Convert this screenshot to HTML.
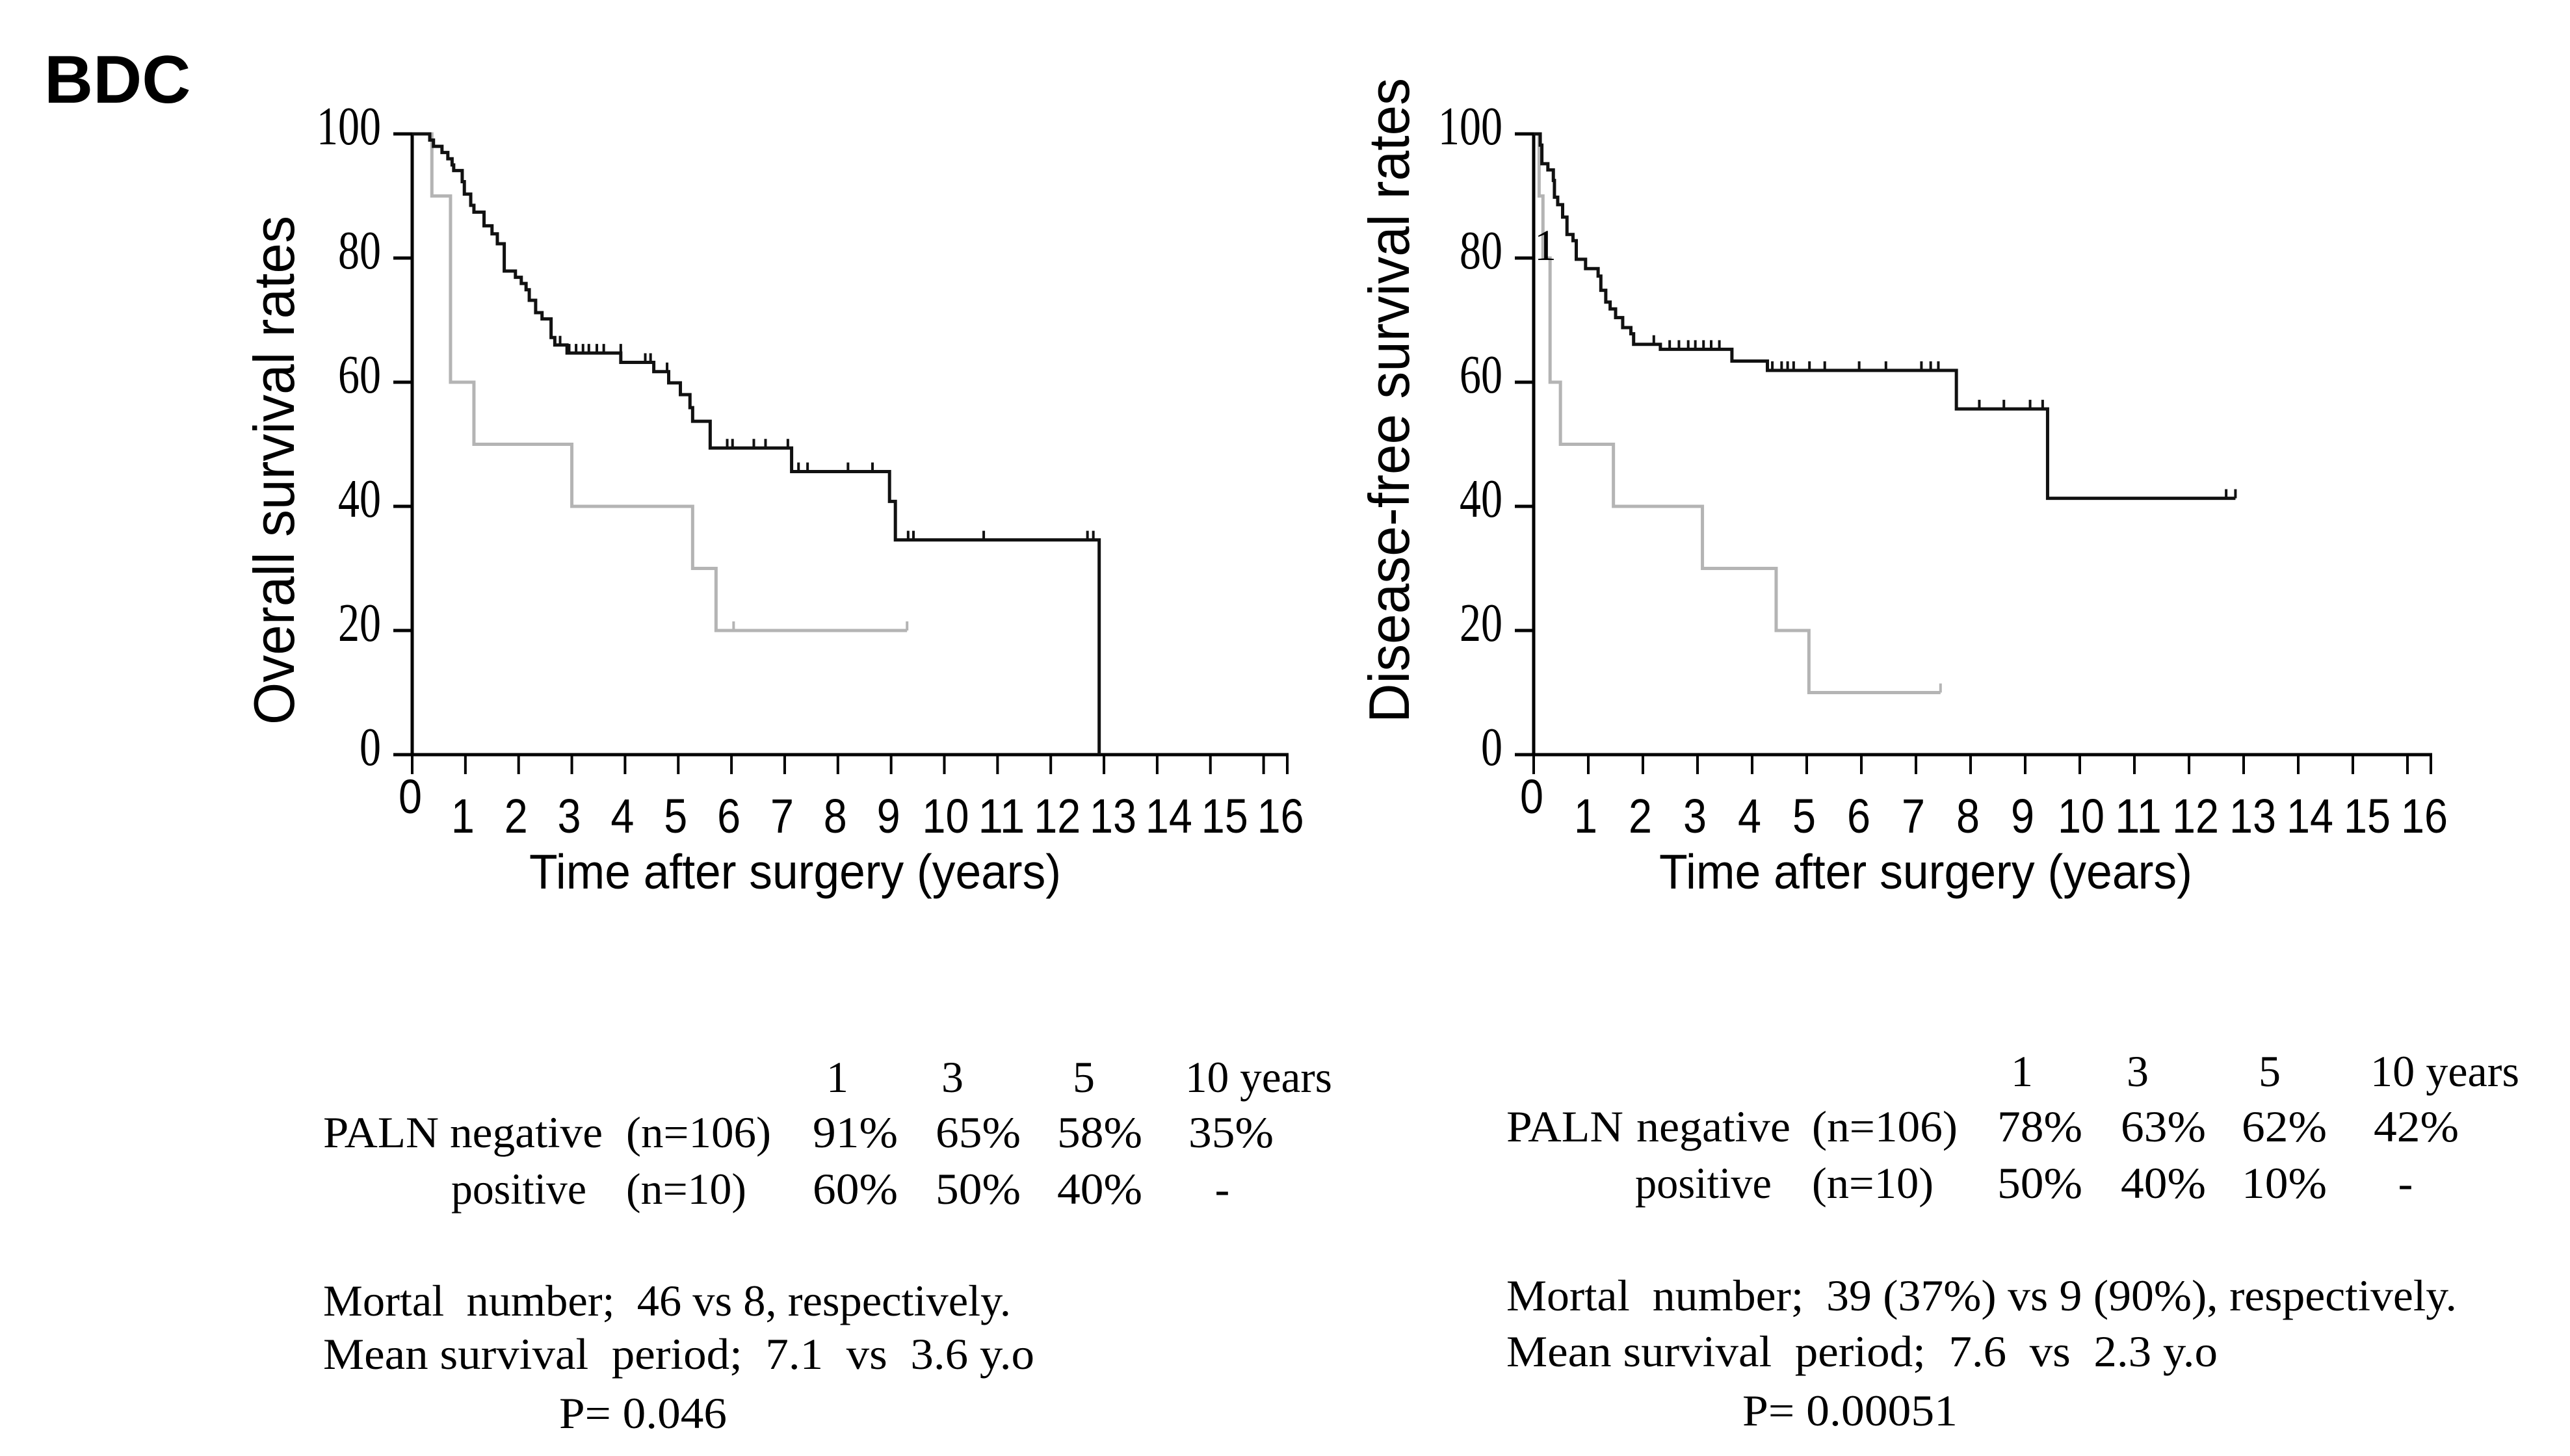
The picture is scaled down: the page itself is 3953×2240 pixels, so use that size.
<!DOCTYPE html>
<html><head><meta charset="utf-8"><style>
html,body{margin:0;padding:0;background:#fff;}
svg{display:block;}
text{white-space:pre;}
.tk{font-family:"Liberation Sans",sans-serif;font-size:74px;fill:#000;}
.yt{font-family:"Liberation Serif",serif;font-size:84px;fill:#000;}
.ser{font-family:"Liberation Serif",serif;font-size:68px;fill:#000;}
</style></head><body>
<svg id="fig" width="3953" height="2240" viewBox="0 0 3953 2240" xmlns="http://www.w3.org/2000/svg">
<rect width="3953" height="2240" fill="#fff"/>
<text x="68" y="158" font-family="Liberation Sans, sans-serif" font-weight="bold" font-size="104">BDC</text>
<g id="chartL"></g>
<g id="chartR"></g>
<text x="2377" y="400" text-anchor="middle" class="ser" font-size="72">1</text>

<g>
<text class="ser" x="1288" y="1680" text-anchor="middle">1</text>
<text class="ser" x="1465" y="1680" text-anchor="middle">3</text>
<text class="ser" x="1667" y="1680" text-anchor="middle">5</text>
<text class="ser" x="1823" y="1680" textLength="226" lengthAdjust="spacingAndGlyphs">10 years</text>
<text class="ser" x="497" y="1765" textLength="178" lengthAdjust="spacingAndGlyphs">PALN</text>
<text class="ser" x="692" y="1765" textLength="235" lengthAdjust="spacingAndGlyphs">negative</text>
<text class="ser" x="963" y="1765" textLength="223" lengthAdjust="spacingAndGlyphs">(n=106)</text>
<text class="ser" x="1250" y="1765" textLength="131" lengthAdjust="spacingAndGlyphs">91%</text>
<text class="ser" x="1439" y="1765" textLength="131" lengthAdjust="spacingAndGlyphs">65%</text>
<text class="ser" x="1626" y="1765" textLength="131" lengthAdjust="spacingAndGlyphs">58%</text>
<text class="ser" x="1828" y="1765" textLength="131" lengthAdjust="spacingAndGlyphs">35%</text>
<text class="ser" x="694" y="1852" textLength="208" lengthAdjust="spacingAndGlyphs">positive</text>
<text class="ser" x="963" y="1852" textLength="185" lengthAdjust="spacingAndGlyphs">(n=10)</text>
<text class="ser" x="1250" y="1852" textLength="131" lengthAdjust="spacingAndGlyphs">60%</text>
<text class="ser" x="1439" y="1852" textLength="131" lengthAdjust="spacingAndGlyphs">50%</text>
<text class="ser" x="1626" y="1852" textLength="131" lengthAdjust="spacingAndGlyphs">40%</text>
<text class="ser" x="1880" y="1852" text-anchor="middle">-</text>
<text class="ser" x="497" y="2024" textLength="1058" lengthAdjust="spacingAndGlyphs">Mortal  number;  46 vs 8, respectively.</text>
<text class="ser" x="497" y="2106" textLength="1094" lengthAdjust="spacingAndGlyphs">Mean survival  period;  7.1  vs  3.6 y.o</text>
<text class="ser" x="860" y="2197" textLength="258" lengthAdjust="spacingAndGlyphs">P= 0.046</text>
</g>

<g>
<text class="ser" x="3110" y="1671" text-anchor="middle">1</text>
<text class="ser" x="3288" y="1671" text-anchor="middle">3</text>
<text class="ser" x="3491" y="1671" text-anchor="middle">5</text>
<text class="ser" x="3646" y="1671" textLength="229" lengthAdjust="spacingAndGlyphs">10 years</text>
<text class="ser" x="2317" y="1756" textLength="180" lengthAdjust="spacingAndGlyphs">PALN</text>
<text class="ser" x="2517" y="1756" textLength="237" lengthAdjust="spacingAndGlyphs">negative</text>
<text class="ser" x="2787" y="1756" textLength="224" lengthAdjust="spacingAndGlyphs">(n=106)</text>
<text class="ser" x="3072" y="1756" textLength="131" lengthAdjust="spacingAndGlyphs">78%</text>
<text class="ser" x="3262" y="1756" textLength="131" lengthAdjust="spacingAndGlyphs">63%</text>
<text class="ser" x="3448" y="1756" textLength="131" lengthAdjust="spacingAndGlyphs">62%</text>
<text class="ser" x="3651" y="1756" textLength="131" lengthAdjust="spacingAndGlyphs">42%</text>
<text class="ser" x="2515" y="1843" textLength="210" lengthAdjust="spacingAndGlyphs">positive</text>
<text class="ser" x="2787" y="1843" textLength="187" lengthAdjust="spacingAndGlyphs">(n=10)</text>
<text class="ser" x="3072" y="1843" textLength="131" lengthAdjust="spacingAndGlyphs">50%</text>
<text class="ser" x="3262" y="1843" textLength="131" lengthAdjust="spacingAndGlyphs">40%</text>
<text class="ser" x="3448" y="1843" textLength="131" lengthAdjust="spacingAndGlyphs">10%</text>
<text class="ser" x="3700" y="1843" text-anchor="middle">-</text>
<text class="ser" x="2317" y="2016" textLength="1462" lengthAdjust="spacingAndGlyphs">Mortal  number;  39 (37%) vs 9 (90%), respectively.</text>
<text class="ser" x="2317" y="2102" textLength="1094" lengthAdjust="spacingAndGlyphs">Mean survival  period;  7.6  vs  2.3 y.o</text>
<text class="ser" x="2680" y="2193" textLength="331" lengthAdjust="spacingAndGlyphs">P= 0.00051</text>
</g>
</svg>
<script>
// ---------- data ----------
const xTickLabels = [0,1,2,3,4,5,6,7,8,9,10,11,12,13,14,15,16];
const yTickLabels = [0,20,40,60,80,100];

// Overall survival, PALN negative (event times in years, survival % after event)
const osNegT = [0.33,0.40,0.56,0.67,0.75,0.78,0.94,0.98,1.10,1.16,1.35,1.50,1.60,1.73,1.94,2.05,2.14,2.20,2.32,2.44,2.61,2.68,2.91,3.92,4.54,4.82,5.04,5.22,5.27,5.60,7.13,8.97,9.08,12.91];
const osNegS = [99,98,97,96,95,94.1,92.3,90.3,88.5,87.4,85.2,83.9,82.3,77.9,76.9,75.9,74.9,73.2,71.2,70.2,67.2,66,64.7,63.2,61.7,59.9,58,55.9,53.7,49.4,45.6,40.8,34.6,0];
const osNegEnd = 12.91;
const osNegCensor = [2.78,2.95,3.08,3.21,3.32,3.47,3.60,3.92,4.38,4.48,4.79,5.92,6.02,6.42,6.64,7.06,7.26,7.43,8.19,8.65,9.32,9.42,10.74,12.69,12.80];
// Overall survival, PALN positive
const osPosT = [0.37,0.72,1.16,3.00,5.27,5.71];
const osPosS = [90,60,50,40,30,20];
const osPosEnd = 9.30;
const osPosCensor = [6.04,9.30];

// Disease-free survival, PALN negative
const dfsNegT = [0.12,0.15,0.26,0.36,0.38,0.44,0.53,0.61,0.72,0.78,0.95,1.18,1.23,1.32,1.40,1.50,1.63,1.78,1.83,2.32,3.63,4.28,7.74,9.41];
const dfsNegS = [98.2,95.2,94.2,92.5,89.8,88.6,86.6,83.8,82.8,79.8,78.3,77.1,74.8,72.9,71.8,70.4,68.8,67.8,66.1,65.3,63.4,61.9,55.7,41.3];
const dfsNegEnd = 12.85;
const dfsNegCensor = [2.2,2.49,2.66,2.83,2.96,3.11,3.25,3.40,4.37,4.54,4.65,4.76,5.05,5.33,5.96,6.45,7.10,7.27,7.41,8.16,8.61,9.09,9.32,12.68,12.85];
// Disease-free survival, PALN positive
const dfsPosT = [0.10,0.17,0.30,0.49,1.46,3.09,4.44,5.04];
const dfsPosS = [90,80,60,50,40,30,20,10];
const dfsPosEnd = 7.45;
const dfsPosCensor = [7.45];

// ---------- drawing ----------
const NS = 'http://www.w3.org/2000/svg';
function mk(tag, parent){ const e = document.createElementNS(NS, tag); parent.appendChild(e); return e; }

function drawChart(g, cfg){
  const xs = t => cfg.x0 + t*cfg.ppy;
  const ys = s => cfg.y0 - (s/100)*(cfg.y0-cfg.y100);
  const ax = mk('path', g);
  
  
  ax.setAttribute('d', `M${cfg.x0},${ys(100)} V${cfg.y0} H${cfg.xEnd}`);
  ax.setAttribute('stroke', '#000'); ax.setAttribute('stroke-width', '5'); ax.setAttribute('fill', 'none');
  yTickLabels.forEach(v => {
    const l = mk('line', g);
    
    
    l.setAttribute('x1', cfg.x0-29); l.setAttribute('x2', cfg.x0);
    l.setAttribute('y1', ys(v)); l.setAttribute('y2', ys(v));
    l.setAttribute('stroke', '#000'); l.setAttribute('stroke-width', '5');
    const t = mk('text', g);
    
    
    t.setAttribute('class', 'yt');
    t.setAttribute('x', cfg.x0-48); t.setAttribute('y', ys(v)+16);
    t.setAttribute('text-anchor', 'end');
    t.setAttribute('textLength', String(v).length*33);
    t.setAttribute('lengthAdjust', 'spacingAndGlyphs');
    t.textContent = v;
  });
  xTickLabels.forEach(v => {
    const l = mk('line', g);
    
    
    l.setAttribute('x1', xs(v)); l.setAttribute('x2', xs(v));
    l.setAttribute('y1', cfg.y0); l.setAttribute('y2', cfg.y0+30);
    l.setAttribute('stroke', '#000'); l.setAttribute('stroke-width', '4');
    const t = mk('text', g);
    
    
    t.setAttribute('class', 'tk');
    const off = v >= 10 ? (v-10)*4 + 2 : -4;
    t.setAttribute('x', xs(v) + (v===0 ? -3 : off));
    t.setAttribute('y', v===0 ? cfg.y0+90 : cfg.y0+120);
    t.setAttribute('text-anchor', 'middle');
    t.setAttribute('textLength', String(v).length*36);
    t.setAttribute('lengthAdjust', 'spacingAndGlyphs');
    t.textContent = v;
  });
  const xl = mk('line', g);
  
  
  xl.setAttribute('x1', cfg.xEnd-2); xl.setAttribute('x2', cfg.xEnd-2);
  xl.setAttribute('y1', cfg.y0); xl.setAttribute('y2', cfg.y0+30);
  xl.setAttribute('stroke', '#000'); xl.setAttribute('stroke-width', '4');
  const xt = mk('text', g);
  
  
  xt.setAttribute('x', cfg.xtX); xt.setAttribute('y', 1367);
  xt.setAttribute('font-family', 'Liberation Sans, sans-serif'); xt.setAttribute('font-size', '75');
  xt.setAttribute('textLength', cfg.xtW); xt.setAttribute('lengthAdjust', 'spacingAndGlyphs');
  xt.textContent = 'Time after surgery (years)';
  const yt = mk('text', g);
  
  
  yt.setAttribute('transform', `translate(${cfg.ytX},${cfg.ytY0}) rotate(-90)`);
  yt.setAttribute('font-family', 'Liberation Sans, sans-serif'); yt.setAttribute('font-size', '88');
  yt.setAttribute('textLength', cfg.ytLen); yt.setAttribute('lengthAdjust', 'spacingAndGlyphs');
  yt.textContent = cfg.ytText;

  function survAt(T, S, t){ let s = 100; for (let i=0;i<T.length;i++){ if (T[i] <= t) s = S[i]; } return s; }
  function curve(T, S, end, C, color, name){
    let d = `M${xs(0)},${ys(100)}`;
    for (let i=0;i<T.length;i++){ d += ` H${xs(T[i])} V${ys(S[i])}`; }
    d += ` H${xs(end)}`;
    const p = mk('path', g);
    
    
    p.setAttribute('d', d); p.setAttribute('fill', 'none');
    p.setAttribute('stroke', color); p.setAttribute('stroke-width', '5');
    C.forEach(c => {
      const s = survAt(T, S, c - 1e-6);
      const m = mk('line', g);
      
      
      m.setAttribute('x1', xs(c)); m.setAttribute('x2', xs(c));
      m.setAttribute('y1', ys(s)); m.setAttribute('y2', ys(s)-14);
      m.setAttribute('stroke', color); m.setAttribute('stroke-width', '4');
    });
  }
  curve(cfg.posT, cfg.posS, cfg.posEnd, cfg.posC, '#b4b4b4', 'curve-paln-positive');
  curve(cfg.negT, cfg.negS, cfg.negEnd, cfg.negC, '#111', 'curve-paln-negative');
}

drawChart(document.getElementById('chartL'), {
  x0:634, ppy:81.85, xEnd:1982, y0:1161, y100:206,
  xtX:814, xtW:818, ytX:452, ytY0:1115, ytLen:783, ytText:'Overall survival rates',
  negT:osNegT, negS:osNegS, negEnd:osNegEnd, negC:osNegCensor,
  posT:osPosT, posS:osPosS, posEnd:osPosEnd, posC:osPosCensor
});
drawChart(document.getElementById('chartR'), {
  x0:2359, ppy:84.0, xEnd:3741, y0:1161, y100:206,
  xtX:2552, xtW:820, ytX:2167, ytY0:1112, ytLen:992, ytText:'Disease-free survival rates',
  negT:dfsNegT, negS:dfsNegS, negEnd:dfsNegEnd, negC:dfsNegCensor,
  posT:dfsPosT, posS:dfsPosS, posEnd:dfsPosEnd, posC:dfsPosCensor
});
</script>
</body></html>
